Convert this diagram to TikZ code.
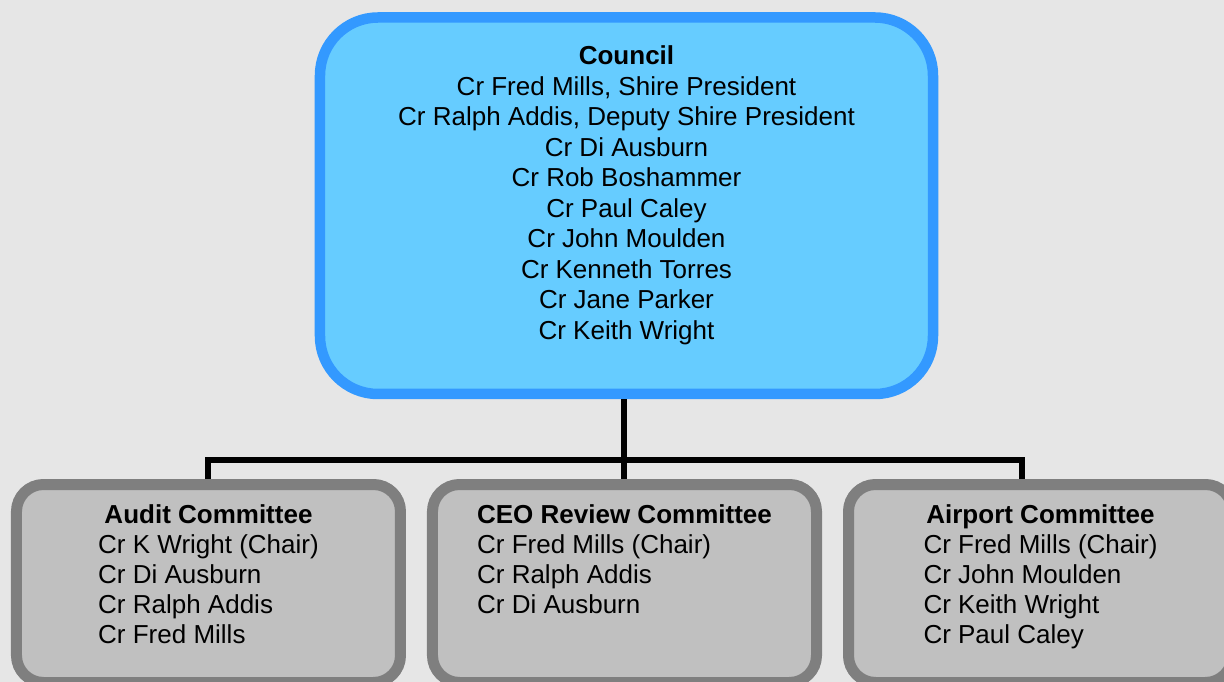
\documentclass[tikz,border=0pt]{standalone}
\usepackage{fontspec}
\setmainfont{Liberation Sans}
\usetikzlibrary{positioning}

\definecolor{pagegray}{HTML}{E6E6E6}
\definecolor{councilfill}{HTML}{66CCFF}
\definecolor{councilline}{HTML}{3399FF}
\definecolor{committeefill}{HTML}{C0C0C0}
\definecolor{committeeline}{HTML}{7F7F7F}

\begin{document}
\begin{tikzpicture}[
        node distance=79.75pt and 21pt,
        every node/.style={font=\fontsize{26}{30.5}\selectfont, inner sep=0pt},
        council/.style={draw=councilline, fill=councilfill, line width=10.5pt, rounded corners=58pt, minimum width=613pt, text height=47.5pt, text depth=329pt},
        committee/.style={draw=committeeline, fill=committeefill, line width=11pt, rounded corners=27pt, minimum width=384pt, text height=38.5pt, text depth=159.5pt, font=\fontsize{26}{30}\selectfont},
        connector/.style={draw=black, line width=6pt}
    ]

    % Page
    \fill[pagegray, use as bounding box] (-626.5pt,205.75pt) rectangle ++(1224pt,-682pt);

    % Nodes
    \node (council)[council] {\begin{tabular}[t]{@{}c@{}}
        \textbf{Council} \\
        Cr Fred Mills, Shire President \\
        Cr Ralph Addis, Deputy Shire President \\
        Cr Di Ausburn \\
        Cr Rob Boshammer \\
        Cr Paul Caley \\
        Cr John Moulden \\
        Cr Kenneth Torres \\
        Cr Jane Parker \\
        Cr Keith Wright
      \end{tabular}};

    \node (ceo)[below=of council, committee, xshift=-2pt] {\begin{tabular}[t]{@{}l@{}}
        \multicolumn{1}{@{}c@{}}{\textbf{CEO Review Committee}} \\
        Cr Fred Mills (Chair) \\
        Cr Ralph Addis \\
        Cr Di Ausburn
      \end{tabular}};
    \node (audit)[left=of ceo, committee] {\begin{tabular}[t]{@{}l@{}}
        \multicolumn{1}{@{}c@{}}{\textbf{Audit Committee}} \\
        Cr K Wright (Chair) \\
        Cr Di Ausburn \\
        Cr Ralph Addis \\
        Cr Fred Mills
      \end{tabular}};
    \node (airport)[right=of ceo, committee] {\begin{tabular}[t]{@{}l@{}}
        \multicolumn{1}{@{}c@{}}{\textbf{Airport Committee}} \\
        Cr Fred Mills (Chair) \\
        Cr John Moulden \\
        Cr Keith Wright \\
        Cr Paul Caley
      \end{tabular}};

    % Edges
    \coordinate (bar) at ([yshift=-60.75pt]council.south);
    \draw[connector] (ceo.north |- council.south) -- (ceo.north);
    \draw[connector] (audit.north) |- (bar) -| ([xshift=-19pt]airport.north);

\end{tikzpicture}
\end{document}
